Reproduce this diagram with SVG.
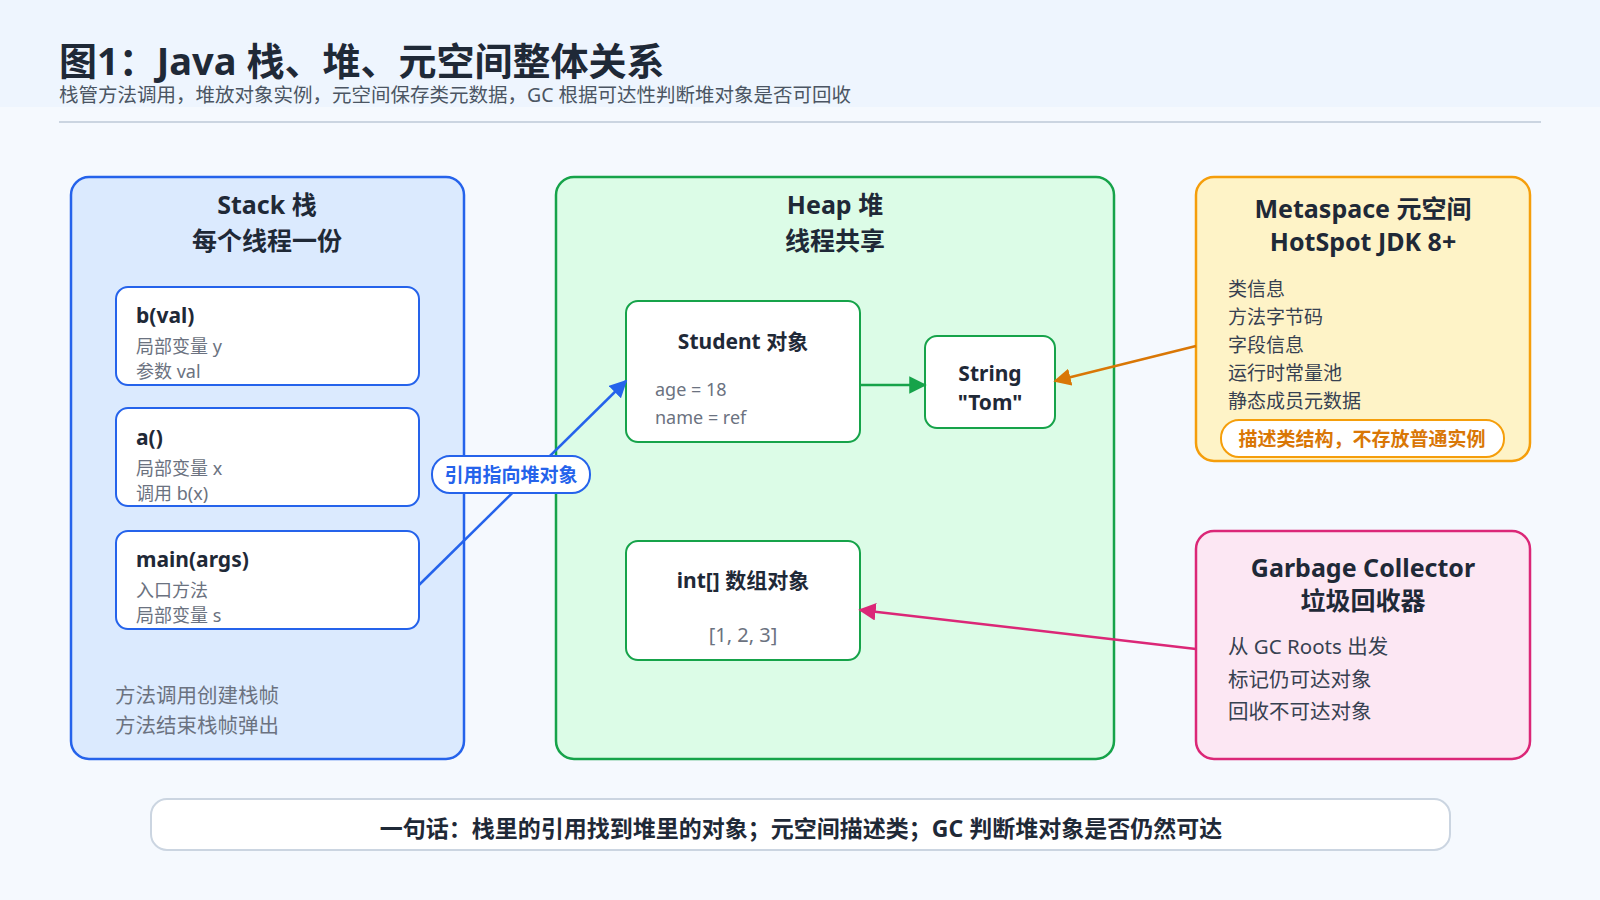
<svg xmlns="http://www.w3.org/2000/svg" width="1600" height="900" viewBox="0 0 1600 900">
<defs>
<style>
text{font-family:"Noto Sans","Noto Sans CJK SC",sans-serif;fill:#1f2937}
.t{font-size:25px;font-weight:bold;text-anchor:middle}
.fn{font-size:21px;font-weight:bold}
.g{font-size:18px;fill:#6b7280}
.it{font-size:19px;fill:#374151}
.frame{fill:#fff;stroke:#2563eb;stroke-width:2}
.obj{fill:#fff;stroke:#16a34a;stroke-width:2}
</style>
<marker id="ab" viewBox="0 0 10 10" refX="9" refY="5" markerWidth="7" markerHeight="7" orient="auto"><path d="M0,0L10,5L0,10z" fill="#2563eb"/></marker>
<marker id="ag" viewBox="0 0 10 10" refX="9" refY="5" markerWidth="7" markerHeight="7" orient="auto"><path d="M0,0L10,5L0,10z" fill="#16a34a"/></marker>
<marker id="ao" viewBox="0 0 10 10" refX="9" refY="5" markerWidth="7" markerHeight="7" orient="auto"><path d="M0,0L10,5L0,10z" fill="#d97706"/></marker>
<marker id="ap" viewBox="0 0 10 10" refX="9" refY="5" markerWidth="7" markerHeight="7" orient="auto"><path d="M0,0L10,5L0,10z" fill="#db2777"/></marker>
</defs>
<rect width="1600" height="900" fill="#f5f9fe"/>
<rect width="1600" height="107" fill="#eef5fe"/>
<text x="59" y="75" style="font-size:38px;font-weight:bold">图1：Java 栈、堆、元空间整体关系</text>
<text x="59" y="102" style="font-size:19.5px;fill:#4b5563">栈管方法调用，堆放对象实例，元空间保存类元数据，GC 根据可达性判断堆对象是否可回收</text>
<line x1="59" y1="122" x2="1541" y2="122" stroke="#cbd5e1" stroke-width="2"/>
<g id="stack">
<rect x="71" y="177" width="393" height="582" rx="18" fill="#dbeafe" stroke="#2563eb" stroke-width="2.5"/>
<text class="t" x="267" y="214">Stack 栈</text>
<text class="t" x="267" y="250">每个线程一份</text>
<text class="g" x="115" y="703" style="font-size:20.5px">方法调用创建栈帧</text>
<text class="g" x="115" y="733" style="font-size:20.5px">方法结束栈帧弹出</text>
</g>
<g id="frame-b"><rect class="frame" x="116" y="287" width="303" height="98" rx="12"/>
<text class="fn" x="136" y="323">b(val)</text><text class="g" x="136" y="353">局部变量 y</text><text class="g" x="136" y="378">参数 val</text></g>
<g id="frame-a"><rect class="frame" x="116" y="408" width="303" height="98" rx="12"/>
<text class="fn" x="136" y="445">a()</text><text class="g" x="136" y="475">局部变量 x</text><text class="g" x="136" y="500">调用 b(x)</text></g>
<g id="frame-main"><rect class="frame" x="116" y="531" width="303" height="98" rx="12"/>
<text class="fn" x="136" y="567">main(args)</text><text class="g" x="136" y="597">入口方法</text><text class="g" x="136" y="622">局部变量 s</text></g>
<g id="heap">
<rect x="556" y="177" width="558" height="582" rx="18" fill="#dcfce7" stroke="#16a34a" stroke-width="2.5"/>
<text class="t" x="835" y="214">Heap 堆</text>
<text class="t" x="835" y="250">线程共享</text>
</g>
<g id="student"><rect class="obj" x="626" y="301" width="234" height="141" rx="12"/>
<text class="fn" x="743" y="349" text-anchor="middle">Student 对象</text>
<text class="g" x="655" y="396">age = 18</text><text class="g" x="655" y="424">name = ref</text></g>
<g id="string"><rect class="obj" x="925" y="336" width="130" height="92" rx="12"/>
<text class="fn" x="990" y="381" text-anchor="middle">String</text><text class="fn" x="990" y="410" text-anchor="middle">"Tom"</text></g>
<g id="intarr"><rect class="obj" x="626" y="541" width="234" height="119" rx="12"/>
<text class="fn" x="743" y="588" text-anchor="middle">int[] 数组对象</text>
<text class="g" x="743" y="642" text-anchor="middle" style="font-size:20px">[1, 2, 3]</text></g>
<g id="metaspace">
<rect x="1196" y="177" width="334" height="284" rx="18" fill="#fef3c7" stroke="#f59e0b" stroke-width="2.5"/>
<text class="t" x="1363" y="218">Metaspace 元空间</text>
<text class="t" x="1363" y="251">HotSpot JDK 8+</text>
<text class="it" x="1228" y="296">类信息</text><text class="it" x="1228" y="324">方法字节码</text><text class="it" x="1228" y="352">字段信息</text><text class="it" x="1228" y="380">运行时常量池</text><text class="it" x="1228" y="408">静态成员元数据</text>
<rect x="1221" y="420" width="283" height="37" rx="18" fill="#fff" stroke="#f59e0b" stroke-width="2"/>
<text x="1362" y="446" text-anchor="middle" style="font-size:19px;font-weight:bold;fill:#d97706">描述类结构，不存放普通实例</text>
</g>
<g id="gc">
<rect x="1196" y="531" width="334" height="228" rx="18" fill="#fce7f3" stroke="#db2777" stroke-width="2.5"/>
<text class="t" x="1363" y="577">Garbage Collector</text>
<text class="t" x="1363" y="610">垃圾回收器</text>
<text class="it" x="1228" y="654" style="font-size:20.5px">从 GC Roots 出发</text><text class="it" x="1228" y="687" style="font-size:20.5px">标记仍可达对象</text><text class="it" x="1228" y="719" style="font-size:20.5px">回收不可达对象</text>
</g>
<g id="connectors" fill="none" stroke-width="2.5">
<line x1="419" y1="585" x2="626" y2="381" stroke="#2563eb" marker-end="url(#ab)"/>
<line x1="860" y1="385" x2="925" y2="385" stroke="#16a34a" marker-end="url(#ag)"/>
<line x1="1196" y1="346" x2="1055" y2="381" stroke="#d97706" marker-end="url(#ao)"/>
<line x1="1196" y1="649" x2="860" y2="610" stroke="#db2777" marker-end="url(#ap)"/>
<rect x="432" y="456" width="158" height="37" rx="18" fill="#fff" stroke="#2563eb" stroke-width="2"/>
<text x="511" y="482" text-anchor="middle" style="font-size:19px;font-weight:bold;fill:#2563eb">引用指向堆对象</text>
</g>
<g id="summary">
<rect x="151" y="799" width="1299" height="51" rx="16" fill="#fff" stroke="#cbd5e1" stroke-width="2"/>
<text x="801" y="837" text-anchor="middle" style="font-size:23px;font-weight:bold">一句话：栈里的引用找到堆里的对象；元空间描述类；GC 判断堆对象是否仍然可达</text>
</g>
</svg>
